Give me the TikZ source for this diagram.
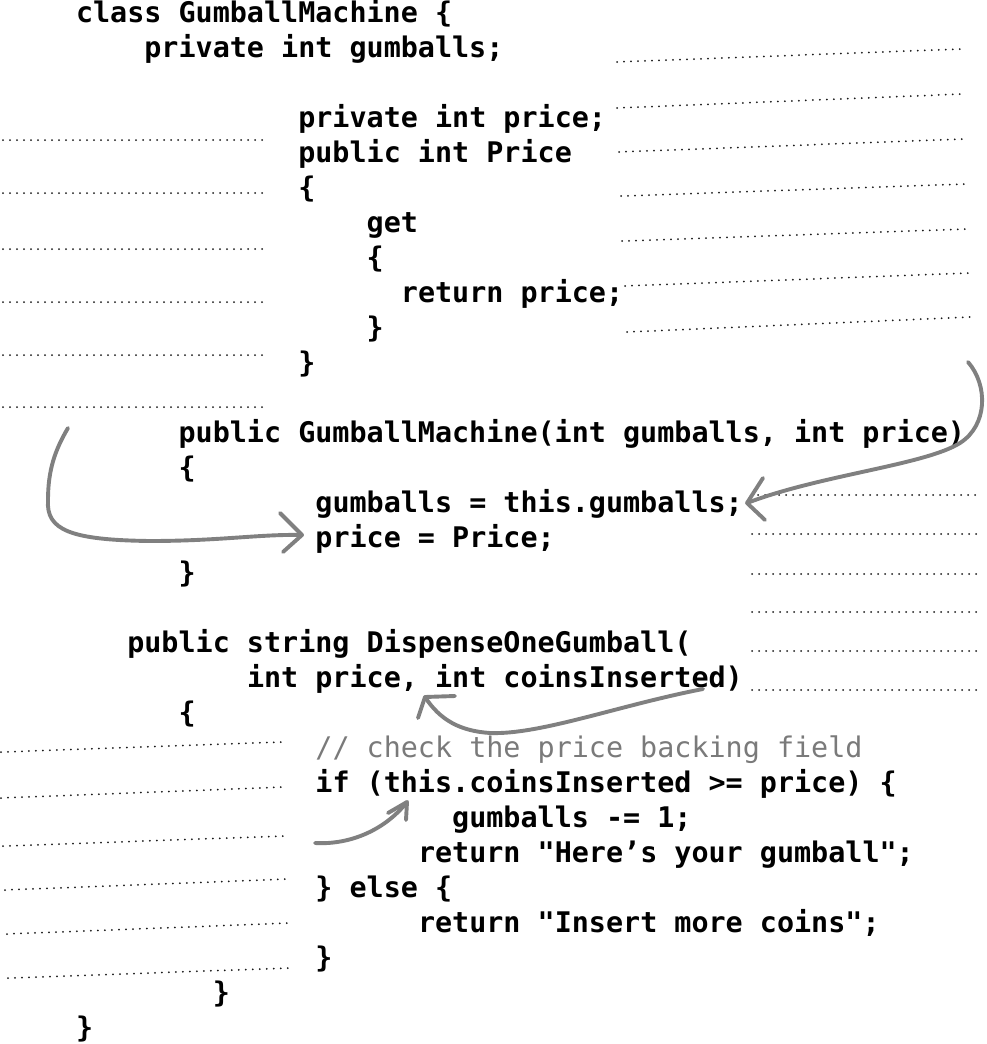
\documentclass[tikz,border=0pt]{standalone}
\usepackage{fontspec}
\setmonofont{DejaVu Sans Mono}
\begin{document}
\begin{tikzpicture}[x=1pt,y=-1pt,
  code/.style={anchor=base west, inner sep=0pt, outer sep=0pt, font=\ttfamily\bfseries\fontsize{28.4}{30}\selectfont, text=black},
  comment/.style={anchor=base west, inner sep=0pt, outer sep=0pt, font=\ttfamily\fontsize{28.4}{30}\selectfont, text=black!52},
  dotline/.style={line width=2pt, dash pattern=on 0pt off 7pt, line cap=round, black!90},
  handarrow/.style={line width=3.9pt, black!50, line cap=round, line join=round}]
\useasboundingbox[fill=white] (0,0) rectangle (986,1044);

% code lines (grid: x = 76 + col*17.1)
\node[code] (l1)  at ({76+0*17.1},22)   {class GumballMachine \{};
\node[code] (l2)  at ({76+4*17.1},57)   {private int gumballs;};
\node[code] (l3)  at ({76+13*17.1},127) {private int price;};
\node[code] (l4)  at ({76+13*17.1},162) {public int Price};
\node[code] (l5)  at ({76+13*17.1},197) {\{};
\node[code] (l6)  at ({76+17*17.1},232) {get};
\node[code] (l7)  at ({76+17*17.1},267) {\{};
\node[code] (l8)  at ({76+19*17.1},302) {return price;};
\node[code] (l9)  at ({76+17*17.1},337) {\}};
\node[code] (l10) at ({76+13*17.1},372) {\}};
\node[code] (l11) at ({76+6*17.1},442)  {public GumballMachine(int gumballs, int price)};
\node[code] (l12) at ({76+6*17.1},477)  {\{};
\node[code] (l13) at ({76+14*17.1},512) {gumballs = this.gumballs;};
\node[code] (l14) at ({76+14*17.1},547) {price = Price;};
\node[code] (l15) at ({76+6*17.1},582)  {\}};
\node[code] (l16) at ({76+3*17.1},652)  {public string DispenseOneGumball(};
\node[code] (l17) at ({76+10*17.1},687) {int price, int coinsInserted)};
\node[code] (l18) at ({76+6*17.1},722)  {\{};
\node[comment] (l19) at ({76+14*17.1},757) {// check the price backing field};
\node[code] (l20) at ({76+14*17.1},792) {if (this.coinsInserted >= price) \{};
\node[code] (l21) at ({76+22*17.1},827) {gumballs -= 1;};
\node[code] (l22) at ({76+20*17.1},862) {return "Here’s your gumball";};
\node[code] (l23) at ({76+14*17.1},897) {\} else \{};
\node[code] (l24) at ({76+20*17.1},932) {return "Insert more coins";};
\node[code] (l25) at ({76+14*17.1},967) {\}};
\node[code] (l26) at ({76+8*17.1},1002) {\}};
\node[code] (l27) at ({76+0*17.1},1037) {\}};

% dotted writing lines: right, upper
\draw[dotline] (617,62) -- (961,49);
\draw[dotline] (617,108) -- (963,94);
\draw[dotline] (619,152) -- (964,139);
\draw[dotline] (621,196) -- (966,184);
\draw[dotline] (622,241) -- (968,229);
\draw[dotline] (625,286) -- (970,273);
\draw[dotline] (627,332) -- (971,317);
% left, upper
\foreach \yy in {140,193,249,302,355,407}
  \draw[dotline] (3,\yy) -- (268,\yy);
% right, middle
\draw[dotline] (758,495) -- (977,495);
\foreach \yy in {534,574,612,651,690}
  \draw[dotline] (752,\yy) -- (977,\yy);
% left, lower
\draw[dotline] (1,752) -- (283,742);
\draw[dotline] (1,798) -- (285,787);
\draw[dotline] (3,846) -- (287,836);
\draw[dotline] (5,890) -- (289,879);
\draw[dotline] (7,934) -- (290,923);
\draw[dotline] (8,978) -- (292,968);

% hand-drawn arrows
\coordinate (a1s) at (968,362);
\coordinate (a1t) at (747,503);
\coordinate (a2s) at (68,428);
\coordinate (a2t) at (302,535);
\coordinate (a3s) at (703,689);
\coordinate (a3t) at (425,697);
\coordinate (a4s) at (315,843);
\coordinate (a4t) at (407,802);

\draw[handarrow] (a1s) .. controls (988,385) and (988,425) .. (960,443)
  .. controls (925,465) and (820,475) .. (a1t);
\draw[handarrow] (a1t) ++(16,-25) -- (a1t) -- ++(18,17);

\draw[handarrow] (a2s) .. controls (55,450) and (48,470) .. (48,500)
  .. controls (46,530) and (70,540) .. (150,541)
  .. controls (220,541) and (260,534) .. (a2t);
\draw[handarrow] (a2t) ++(-22,-22) -- (a2t) -- ++(-19,17);

\draw[handarrow] (a3s) .. controls (620,705) and (540,735) .. (490,733)
  .. controls (460,731) and (440,720) .. (a3t);
\draw[handarrow] (a3t) ++(30,-1) -- (a3t) -- ++(-7,21);

\draw[handarrow] (a4s) .. controls (350,845) and (385,830) .. (a4t);
\draw[handarrow] (a4t) ++(-19,11) -- (a4t) -- ++(-1,18);
\end{tikzpicture}
\end{document}
